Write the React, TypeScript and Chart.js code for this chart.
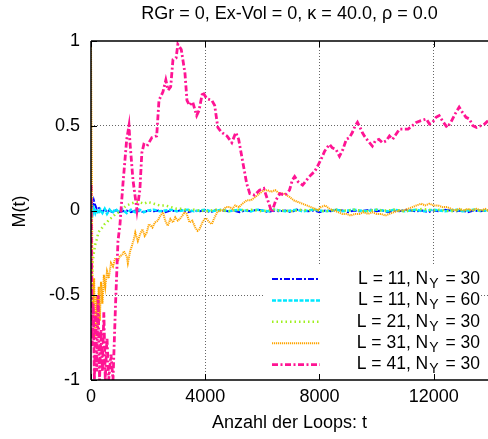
import React, { useEffect, useRef } from "react";
import { Chart, registerables } from "chart.js";

Chart.register(...registerables);

const TITLE = "RGr = 0, Ex-Vol = 0, κ = 40.0, ρ = 0.0";
const X_LABEL = "Anzahl der Loops: t";
const Y_LABEL = "M(t)";
const X_TICKS = [0, 4000, 8000, 12000];
const Y_TICKS = [-1, -0.5, 0, 0.5, 1];
const X_MIN = 0;
const X_MAX = 13900;
const Y_MIN = -1;
const Y_MAX = 1;

const LEG_L = ["11", "11", "21", "31", "41"];
const LEG_N = ["30", "60", "30", "30", "30"];

// shared time grid for the three series that stay near zero
const fineT = [
  0, 30, 60, 100, 150, 200, 260, 330, 400, 480, 560, 650, 750, 860, 980, 1100, 1250, 1400, 1550, 1700, 1850, 2000,
  2200, 2400, 2600, 2800, 3000, 3200, 3400, 3600, 3800, 4000, 4200, 4400, 4600, 4800, 5000, 5200, 5400, 5600, 5800,
  6000, 6200, 6400, 6600, 6800, 7000, 7200, 7400, 7600, 7800, 8000, 8200, 8400, 8600, 8800, 9000, 9200, 9400, 9600,
  9800, 10000, 10200, 10400, 10600, 10800, 11000, 11200, 11400, 11600, 11800, 12000, 12200, 12400, 12600, 12800,
  13000, 13200, 13400, 13600, 13900,
];

const blueM = [
  0.0, 0.05, 0.02, 0.06, 0.03, 0.01, 0.02, 0.0, -0.01, 0.01, -0.01, 0.0, -0.01, 0.0, -0.01, -0.005, 0.0, -0.01, 0.0, -0.005, -0.01, 0.0,
  -0.005, 0.0, -0.01, 0.0, -0.005, 0.005, -0.01, 0.0, -0.005, 0.0,
  -0.01, 0.005, 0.0, -0.005, 0.0, -0.01, 0.0, -0.005, 0.005, 0.0,
  -0.01, 0.0, -0.005, 0.0, -0.01, 0.005, 0.0, -0.005, 0.0, -0.01,
  0.0, -0.005, 0.005, 0.0, -0.01, 0.0, -0.005, 0.0, 0.005, -0.005,
  0.0, -0.01, 0.0, -0.005, 0.005, 0.0, -0.005, 0.0, -0.01, 0.0,
  -0.005, 0.005, 0.0, -0.005, 0.0, -0.01, 0.0, -0.005,
  0.0,
];

const cyanM = [
  0.02, 0.0, -0.02, 0.01, -0.015, 0.01, -0.02, 0.005, -0.015, 0.01, -0.02, 0.005, -0.015, 0.01, -0.01, 0.005, -0.015, 0.005, -0.01, 0.005, -0.01, 0.0,
  0.005, -0.005, 0.0, 0.005, -0.005, 0.0, 0.005, -0.005, 0.0, 0.005,
  -0.005, 0.0, 0.005, -0.005, 0.0, 0.005, 0.0, -0.005, 0.005, 0.0,
  -0.005, 0.005, 0.0, -0.005, 0.0, 0.005, -0.005, 0.0, 0.005, 0.0,
  -0.005, 0.0, 0.005, -0.005, 0.0, 0.005, 0.0, -0.005, 0.0, 0.005,
  0.0, -0.005, 0.005, 0.0, -0.005, 0.0, 0.005, -0.005, 0.0, 0.005,
  0.0, -0.005, 0.0, 0.005, -0.005, 0.0, 0.005, 0.0,
  0.0,
];

const greenM = [
  -0.6, -0.42, -0.3, -0.25, -0.2, -0.17, -0.13, -0.11, -0.1, -0.08, -0.07, -0.05, -0.04, -0.02, -0.01, 0.01, 0.03, 0.04, 0.05, 0.05, 0.04, 0.05,
  0.04, 0.03, 0.03, 0.02, 0.01, 0.01, 0.0, 0.005, 0.0, -0.005,
  0.0, 0.005, 0.0, -0.005, 0.0, 0.005, 0.0, 0.005, 0.0, -0.005,
  0.0, 0.005, 0.0, 0.0, -0.005, 0.0, 0.005, 0.0, 0.005, 0.0,
  -0.005, 0.0, 0.005, 0.0, 0.0, 0.005, 0.0, -0.005, 0.0, 0.005,
  0.0, 0.0, 0.005, 0.0, -0.005, 0.0, 0.005, 0.01, 0.005, 0.0,
  0.005, 0.0, -0.005, 0.0, 0.005, 0.0, 0.005, 0.0,
  0.0,
];

const orangeT = [
  0, 15, 30, 50, 80, 110, 150, 190, 230, 270, 310, 350, 400, 450, 500, 560, 620, 700, 770, 850, 940, 1010, 1100,
  1150, 1250, 1290, 1370, 1430, 1500, 1550, 1640, 1720, 1800, 1880, 1950, 2030, 2150, 2240, 2340, 2430, 2520, 2600,
  2690, 2780, 2870, 2950, 3040, 3110, 3200, 3270, 3350, 3450, 3550, 3650, 3730, 3800, 3900, 3980, 4050, 4150, 4230,
  4330, 4420, 4510, 4620, 4720, 4860, 4950, 5050, 5180, 5300, 5450, 5600, 5750, 5900, 6050, 6180, 6300, 6450, 6600,
  6750, 6950, 7100, 7250, 7400, 7550, 7700, 7850, 7930, 8050, 8200, 8350, 8500, 8650, 8800, 8940, 9100, 9250, 9400,
  9550, 9700, 9850, 10000, 10150, 10300, 10450, 10600, 10800, 10950, 11100, 11250, 11400, 11560, 11700, 11850,
  12000, 12150, 12300, 12470, 12600, 12750, 12900, 13050, 13200, 13350, 13500, 13650, 13800, 13900,
];
const orangeM = [
  1.0, 0.5, 0.2, -0.45, -0.6, -0.4, -0.75, -0.5, -0.7, -0.45, -0.65, -0.42, -0.55, -0.38, -0.45, -0.36, -0.4, -0.31, -0.33, -0.28, -0.3, -0.27, -0.26,
  -0.24, -0.27, -0.31, -0.24, -0.21, -0.17, -0.13, -0.18, -0.14, -0.11, -0.15, -0.13, -0.08, -0.1, -0.07, -0.06, -0.03, -0.01, -0.06,
  -0.09, -0.05, -0.07, -0.04, -0.06, -0.05, -0.03, -0.01, -0.02, -0.07, -0.06, -0.1, -0.12, -0.11, -0.07, -0.05, -0.05, -0.07, -0.08,
  -0.04, -0.01, 0.0, 0.0, 0.02, 0.02, 0.01, 0.03, 0.02, 0.04, 0.06, 0.06, 0.08, 0.1, 0.12, 0.12, 0.11, 0.12, 0.1,
  0.1, 0.08, 0.06, 0.05, 0.04, 0.03, 0.02, 0.01, 0.0, 0.02, 0.03, 0.01, 0.0, -0.01, -0.02, -0.02, -0.03, -0.02, -0.02,
  -0.01, -0.02, -0.01, -0.02, -0.02, -0.03, -0.02, -0.01, 0.0, 0.0, 0.01, 0.02, 0.03, 0.04, 0.03, 0.04,
  0.03, 0.03, 0.02, 0.02, 0.01, 0.0, 0.01, 0.0, 0.01, 0.0, 0.01, 0.0, 0.01, 0.0,
];

const pinkT = [
  0, 40, 80, 120, 160, 200, 250, 300, 350, 400, 450, 500, 560, 620, 700, 770, 860, 945, 1015, 1120, 1250, 1330,
  1365, 1470, 1610, 1710, 1780, 1850, 1960, 2130, 2300, 2380, 2520, 2620, 2700, 2790, 2870, 2980, 3040, 3160, 3290,
  3360, 3450, 3560, 3700, 3780, 3910, 4050, 4230, 4330, 4440, 4580, 4760, 4930, 5070, 5170, 5320, 5450, 5560, 5730,
  5900, 6050, 6190, 6330, 6470, 6610, 6800, 6950, 7050, 7130, 7250, 7410, 7550, 7700, 7830, 7930, 8050, 8180, 8350,
  8450, 8580, 8700, 8820, 8940, 9050, 9150, 9250, 9330, 9420, 9500, 9570, 9700, 9850, 9950, 10080, 10200, 10330,
  10450, 10560, 10680, 10800, 10950, 11100, 11250, 11390, 11550, 11740, 11850, 11960, 12080, 12190, 12300, 12470,
  12600, 12750, 12890, 13000, 13130, 13250, 13370, 13500, 13650, 13780, 13900,
];
const pinkM = [
  0.15, -0.8, -0.55, -1.0, -0.6, -0.95, -0.5, -1.0, -0.7, -0.95, -0.6, -1.0, -0.75, -1.0, -0.85, -1.0, -0.55, -0.18, -0.08, 0.16, 0.42, 0.5,
  0.4, 0.18, 0.0, 0.12, 0.34, 0.39, 0.38, 0.43, 0.44, 0.65, 0.7, 0.77, 0.71, 0.73, 0.89, 0.9, 0.98, 0.95, 0.81,
  0.65, 0.62, 0.64, 0.56, 0.59, 0.7, 0.66, 0.65, 0.62, 0.49, 0.46, 0.44, 0.4, 0.46, 0.42, 0.28, 0.16, 0.1, 0.09,
  0.12, 0.13, 0.06, -0.01, 0.06, 0.1, 0.09, 0.12, 0.18, 0.2, 0.17, 0.15, 0.18, 0.21, 0.23, 0.26, 0.3, 0.35, 0.39,
  0.37, 0.36, 0.32, 0.36, 0.42, 0.43, 0.46, 0.5, 0.52, 0.49, 0.46, 0.44, 0.41, 0.38, 0.41, 0.42, 0.4, 0.41,
  0.44, 0.42, 0.45, 0.48, 0.48, 0.48, 0.5, 0.52, 0.53, 0.54, 0.51, 0.52, 0.55, 0.56, 0.53, 0.49,
  0.52, 0.57, 0.61, 0.58, 0.55, 0.54, 0.5, 0.49, 0.5, 0.51, 0.53,
];

const COLORS = ["#0000ff", "#00e8ff", "#a0f020", "#ffa500", "#ff1493"];
const DASHES = [[6, 2, 2, 2], [4, 1.5], [1.5, 3], [1.2, 0.8], [6, 2.5, 2, 2.5]];
const WIDTHS = [2, 2.5, 2.5, 2, 2.8];

const FONT = "'Liberation Sans', Arial, sans-serif";
const FS = 18;
const FS_TITLE = 18;
const FS_LEG = 17.5;
const FS_SUB = 14;

function pts(t: number[], m: number[]) {
  return t.map((v, i) => ({ x: v, y: m[i] }));
}

const decor = {
  id: "decor",
  beforeDatasetsDraw(chart: any) {
    const { ctx, chartArea } = chart;
    ctx.save();
    ctx.fillStyle = "#fff";
    // legend box background hides the grid behind the key
    ctx.fillRect(chartArea.right - 225, chartArea.bottom - 114, 217, 113);
    ctx.restore();
  },
  afterDraw(chart: any) {
    const { ctx, chartArea, scales } = chart;
    const xs = scales.x;
    const ys = scales.y;
    ctx.save();
    // borders
    ctx.strokeStyle = "#000";
    ctx.lineWidth = 1.5;
    ctx.beginPath();
    ctx.moveTo(chartArea.left, chartArea.top);
    ctx.lineTo(chartArea.right, chartArea.top);
    ctx.moveTo(chartArea.left, chartArea.bottom);
    ctx.lineTo(chartArea.right, chartArea.bottom);
    ctx.moveTo(chartArea.left, chartArea.top);
    ctx.lineTo(chartArea.left, chartArea.bottom);
    ctx.stroke();
    // inward ticks
    ctx.lineWidth = 1;
    ctx.beginPath();
    X_TICKS.forEach((v) => {
      const px = Math.round(xs.getPixelForValue(v)) + 0.5;
      ctx.moveTo(px, chartArea.bottom);
      ctx.lineTo(px, chartArea.bottom - 6);
      ctx.moveTo(px, chartArea.top);
      ctx.lineTo(px, chartArea.top + 6);
    });
    Y_TICKS.forEach((v) => {
      const py = Math.round(ys.getPixelForValue(v)) + 0.5;
      ctx.moveTo(chartArea.left, py);
      ctx.lineTo(chartArea.left + 6, py);
    });
    ctx.stroke();

    // texts
    ctx.fillStyle = "#000";
    ctx.textAlign = "center";
    ctx.textBaseline = "middle";
    const cx = (chartArea.left + chartArea.right) / 2;
    ctx.font = `${FS_TITLE}px ${FONT}`;
    ctx.fillText(TITLE, cx, 14);
    ctx.font = `${FS}px ${FONT}`;
    ctx.fillText(X_LABEL, cx, 423);
    ctx.save();
    ctx.translate(20, (chartArea.top + chartArea.bottom) / 2 + 1);
    ctx.rotate(-Math.PI / 2);
    ctx.fillText(Y_LABEL, 0, 0);
    ctx.restore();

    // legend
    const rowY0 = 279;
    const rowH = 21.4;
    const textRight = 480;
    for (let i = 0; i < LEG_L.length; i++) {
      const y = rowY0 + i * rowH;
      ctx.save();
      ctx.strokeStyle = COLORS[i];
      ctx.lineWidth = WIDTHS[i];
      ctx.setLineDash(DASHES[i]);
      ctx.beginPath();
      ctx.moveTo(272, y);
      ctx.lineTo(320, y);
      ctx.stroke();
      ctx.restore();

      const partA = `L = ${LEG_L[i]}, N`;
      const partB = "Y";
      const partC = ` = ${LEG_N[i]}`;
      ctx.textAlign = "left";
      ctx.font = `${FS_LEG}px ${FONT}`;
      const wA = ctx.measureText(partA).width;
      const wC = ctx.measureText(partC).width;
      ctx.font = `${FS_SUB}px ${FONT}`;
      const wB = ctx.measureText(partB).width + 3;
      const x0 = textRight - wA - wB - wC;
      ctx.font = `${FS_LEG}px ${FONT}`;
      ctx.fillText(partA, x0, y);
      ctx.font = `${FS_SUB}px ${FONT}`;
      ctx.fillText(partB, x0 + wA + 1, y + 5);
      ctx.font = `${FS_LEG}px ${FONT}`;
      ctx.fillText(partC, x0 + wA + wB, y);
    }
    ctx.restore();
  },
};

export default function App() {
  const ref = useRef<HTMLCanvasElement | null>(null);
  useEffect(() => {
    if (!ref.current) return;
    const raw = [
      pts(fineT, blueM),
      pts(fineT, cyanM),
      pts(fineT, greenM),
      pts(orangeT, orangeM),
      pts(pinkT, pinkM),
    ];
    const datasets = raw.map((d, i) => ({
      label: `L = ${LEG_L[i]}, NY = ${LEG_N[i]}`,
      data: d,
      borderColor: COLORS[i],
      borderWidth: WIDTHS[i],
      borderDash: DASHES[i],
      pointRadius: 0,
      tension: 0,
      fill: false,
      order: raw.length - 1 - i,
    }));
    const gridColor = (ctx: any) => {
      const v = ctx.tick ? ctx.tick.value : null;
      if (v === null || v === X_MIN || v === Y_MIN || v === Y_MAX) return "rgba(0,0,0,0)";
      return "rgba(0,0,0,0.6)";
    };
    const chart = new Chart(ref.current, {
      type: "line",
      data: { datasets },
      plugins: [decor],
      options: {
        animation: false,
        responsive: false,
        maintainAspectRatio: false,
        layout: { padding: { top: 41, left: 0, right: 0, bottom: 0 } },
        plugins: {
          legend: { display: false },
          title: { display: false },
          tooltip: { enabled: false },
        },
        scales: {
          x: {
            type: "linear",
            min: X_MIN,
            max: X_MAX,
            afterBuildTicks: (s: any) => {
              s.ticks = X_TICKS.map((v) => ({ value: v }));
            },
            afterFit: (s: any) => {
              s.height = 59;
            },
            ticks: {
              padding: 6,
              color: "#000",
              maxRotation: 0,
              autoSkip: false,
              font: { family: FONT, size: FS },
              callback: (v: any) => String(v),
            },
            grid: { color: gridColor, lineWidth: 1, drawTicks: false },
            border: { display: false, dash: [1, 2] },
          },
          y: {
            type: "linear",
            min: Y_MIN,
            max: Y_MAX,
            afterBuildTicks: (s: any) => {
              s.ticks = Y_TICKS.map((v) => ({ value: v }));
            },
            afterFit: (s: any) => {
              s.width = 91;
            },
            ticks: {
              padding: 11,
              color: "#000",
              autoSkip: false,
              font: { family: FONT, size: FS },
              callback: (v: any) => String(v),
            },
            grid: { color: gridColor, lineWidth: 1, drawTicks: false },
            border: { display: false, dash: [1, 2] },
          },
        },
      },
    });
    return () => chart.destroy();
  }, []);
  return (
    <div style={{ position: "fixed", left: 0, top: 0, width: 488, height: 439, background: "#fff" }}>
      <canvas ref={ref} width={488} height={439} style={{ display: "block" }} />
    </div>
  );
}
